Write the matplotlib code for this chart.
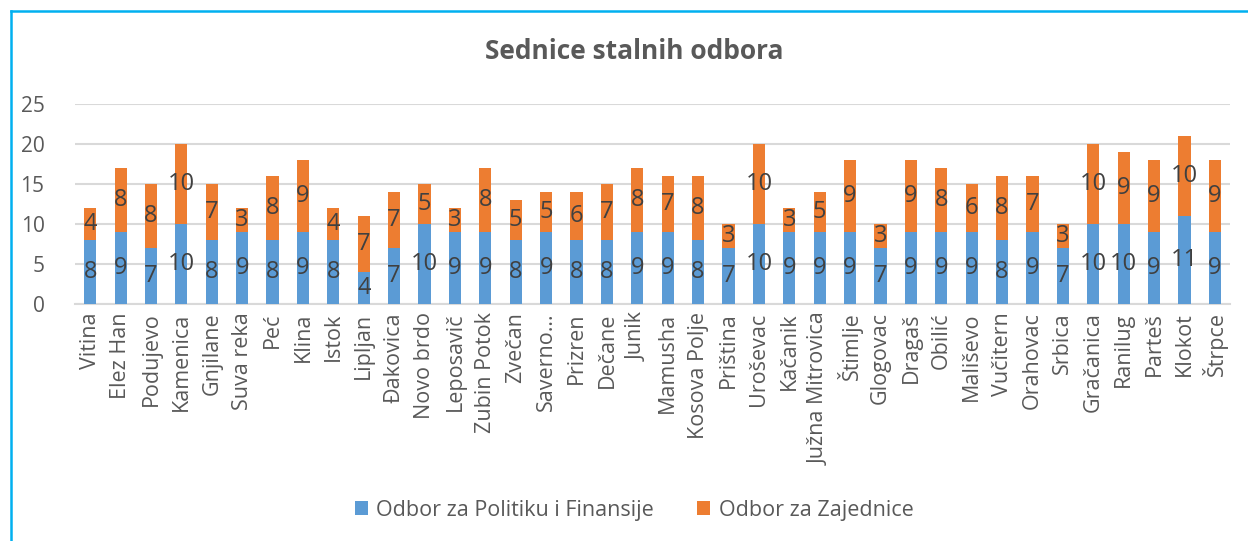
import matplotlib
matplotlib.use("Agg")
import matplotlib.pyplot as plt
import numpy as np
from matplotlib.lines import Line2D

plt.rcParams['font.family'] = ['Open Sans', 'DejaVu Sans']

opstine = ["Vitina", "Elez Han", "Podujevo", "Kamenica", "Gnjilane", "Suva reka",
           "Peć", "Klina", "Istok", "Lipljan", "Đakovica", "Novo brdo", "Leposavič",
           "Zubin Potok", "Zvečan", "Saverno…", "Prizren", "Dečane", "Junik",
           "Mamusha", "Kosova Polje", "Priština", "Uroševac", "Kačanik",
           "Južna Mitrovica", "Štimlje", "Glogovac", "Dragaš", "Obilić", "Mališevo",
           "Vučitern", "Orahovac", "Srbica", "Gračanica", "Ranilug", "Parteš",
           "Klokot", "Štrpce"]
politika = [8, 9, 7, 10, 8, 9, 8, 9, 8, 4, 7, 10, 9, 9, 8, 9, 8, 8, 9,
            9, 8, 7, 10, 9, 9, 9, 7, 9, 9, 9, 8, 9, 7, 10, 10, 9, 11, 9]
zajednice = [4, 8, 8, 10, 7, 3, 8, 9, 4, 7, 7, 5, 3, 8, 5, 5, 6, 7, 8,
             7, 8, 3, 10, 3, 5, 9, 3, 9, 8, 6, 8, 7, 3, 10, 9, 9, 10, 9]

blue = "#5B9BD5"
orange = "#ED7D31"

fig = plt.figure(figsize=(12.48, 5.41), dpi=100)
ax = fig.add_axes([0.0601, 0.438, 0.9255, 0.37])

x = np.arange(len(opstine))
b1 = ax.bar(x, politika, width=0.4, color=blue, label="Odbor za Politiku i Finansije", zorder=3)
b2 = ax.bar(x, zajednice, width=0.4, bottom=politika, color=orange,
            label="Odbor za Zajednice", zorder=3)
ax.bar_label(b1, label_type="center", fontsize=17, color="#404040")
ax.bar_label(b2, label_type="center", fontsize=17, color="#404040")

ax.set_ylim(0, 25)
ax.set_yticks(range(0, 26, 5))
ax.set_xlim(-0.5, len(opstine) - 0.5)
ax.set_xticks(x)
ax.set_xticklabels(opstine, rotation=90, fontsize=15.5, color="#595959")
ax.tick_params(axis="y", labelsize=15, labelcolor="#595959", length=0, pad=22)
ax.tick_params(axis="x", length=0, pad=6)
ax.grid(axis="y", color="#d9d9d9", linewidth=1.5, zorder=0)
for s in ["top", "right", "left"]:
    ax.spines[s].set_visible(False)
ax.spines["bottom"].set_color("#d9d9d9")
ax.spines["bottom"].set_linewidth(1.5)

fig.text(0.508, 0.904, "Sednice stalnih odbora", ha="center", va="center",
         fontsize=19, fontweight="bold", color="#595959")

fig.legend(handles=[b1, b2], loc="center", bbox_to_anchor=(0.508, 0.057), ncol=2,
           frameon=False, fontsize=15.5, labelcolor="#595959", handlelength=0.6,
           handleheight=0.6, columnspacing=2.0, handletextpad=0.4)

# border only on top and left, like the cropped chart frame
fig.lines.append(Line2D([0.0088, 1.0], [0.9797, 0.9797], transform=fig.transFigure,
                        color="#00B0F0", linewidth=1.8))
fig.lines.append(Line2D([0.0088, 0.0088], [0.0, 0.9797], transform=fig.transFigure,
                        color="#00B0F0", linewidth=1.8))

fig.savefig("out.png", dpi=100)
